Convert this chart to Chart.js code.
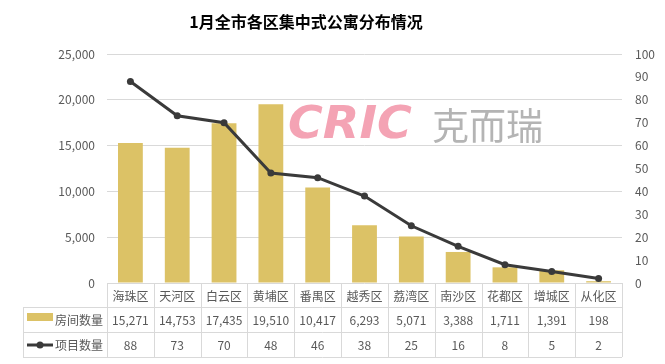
<!DOCTYPE html>
<html><head><meta charset="utf-8">
<script src="https://cdn.jsdelivr.net/npm/chart.js@4/dist/chart.umd.min.js"></script>
<style>html,body{margin:0;padding:0;background:#fff}canvas{display:block}</style>
</head><body>
<canvas id="c" width="665" height="364"></canvas>
<script>
const title = '1月全市各区集中式公寓分布情况';
const categories = ['海珠区','天河区','白云区','黄埔区','番禺区','越秀区','荔湾区','南沙区','花都区','增城区','从化区'];
const roomLabel = '房间数量';
const rooms = [15271,14753,17435,19510,10417,6293,5071,3388,1711,1391,198];
const projLabel = '项目数量';
const projects = [88,73,70,48,46,38,25,16,8,5,2];
const leftTicks = [0,5000,10000,15000,20000,25000];
const rightTicks = [0,10,20,30,40,50,60,70,80,90,100];

const FONT = '"Noto Sans CJK SC","Microsoft YaHei",sans-serif';
const BAR = '#DCC266';
const LINE = '#3A3A3A';
const GRID = '#D9D9D9';
const TXT = '#595959';
const fmt = v => v.toLocaleString('en-US');

const extras = {
  id: 'extras',
  beforeDatasetsDraw(chart) {
    const ctx = chart.ctx;
    ctx.save();
    // watermark
    ctx.textBaseline = 'middle';
    ctx.textAlign = 'left';
    ctx.save();
    ctx.translate(288, 127);
    ctx.scale(1.25, 1.15);
    ctx.font = 'italic 900 38px "DejaVu Sans",sans-serif';
    ctx.fillStyle = '#F4A3B4';
    ctx.fillText('CRIC', 0, 0);
    ctx.restore();
    ctx.font = '37px ' + FONT;
    ctx.fillStyle = '#B4B4B4';
    ctx.fillText('克而瑞', 432, 126);
    ctx.restore();
  },
  afterDraw(chart) {
    const ctx = chart.ctx;
    const x = chart.scales.x;
    const area = chart.chartArea;
    const L = area.left, R = area.right, T = area.bottom;
    const rowH = [T, 307, 332, 357];
    const legL = 23;
    ctx.save();
    // title
    ctx.font = 'bold 16px ' + FONT;
    ctx.fillStyle = '#000';
    ctx.textAlign = 'center';
    ctx.textBaseline = 'middle';
    ctx.fillText(title, 306, 22);
    // table grid
    ctx.strokeStyle = GRID;
    ctx.lineWidth = 1;
    ctx.beginPath();
    ctx.moveTo(L, rowH[0] + 0.5); ctx.lineTo(R, rowH[0] + 0.5);
    for (let i = 1; i < 4; i++) { ctx.moveTo(legL, rowH[i] + 0.5); ctx.lineTo(R, rowH[i] + 0.5); }
    const n = categories.length;
    const step = (R - L) / n;
    for (let i = 0; i <= n; i++) {
      const xx = Math.round(L + step * i) + 0.5;
      ctx.moveTo(xx, rowH[0]); ctx.lineTo(xx, rowH[3]);
    }
    ctx.moveTo(legL + 0.5, rowH[1]); ctx.lineTo(legL + 0.5, rowH[3]);
    ctx.stroke();
    // texts
    ctx.font = '12px ' + FONT;
    ctx.fillStyle = TXT;
    ctx.textAlign = 'center';
    categories.forEach((c, i) => {
      const cx = x.getPixelForValue(i);
      ctx.fillText(c, cx, (rowH[0] + rowH[1]) / 2 + 1);
      ctx.fillText(fmt(rooms[i]), cx, (rowH[1] + rowH[2]) / 2 + 1);
      ctx.fillText(String(projects[i]), cx, (rowH[2] + rowH[3]) / 2 + 1);
    });
    // legend keys
    ctx.fillStyle = BAR;
    ctx.fillRect(27, 313, 26, 8);
    ctx.strokeStyle = LINE;
    ctx.lineWidth = 3;
    ctx.beginPath(); ctx.moveTo(27, 345); ctx.lineTo(53, 345); ctx.stroke();
    ctx.fillStyle = LINE;
    ctx.beginPath(); ctx.arc(40, 345, 3.5, 0, Math.PI * 2); ctx.fill();
    ctx.fillStyle = TXT;
    ctx.textAlign = 'left';
    ctx.fillText(roomLabel, 55, (rowH[1] + rowH[2]) / 2 + 1);
    ctx.fillText(projLabel, 55, (rowH[2] + rowH[3]) / 2 + 1);
    ctx.restore();
  }
};

new Chart(document.getElementById('c'), {
  data: {
    labels: categories,
    datasets: [
      { type: 'line', label: projLabel, data: projects, yAxisID: 'y1', borderColor: LINE, backgroundColor: LINE,
        borderWidth: 3, pointRadius: 3.5, pointBackgroundColor: LINE, pointBorderWidth: 0, tension: 0, order: 0 },
      { type: 'bar', label: roomLabel, data: rooms, yAxisID: 'y', backgroundColor: BAR,
        categoryPercentage: 1, barPercentage: 0.53, order: 1 }
    ]
  },
  plugins: [extras],
  options: {
    responsive: false,
    animation: false,
    devicePixelRatio: 1,
    layout: { padding: { top: 54, bottom: 81, left: 0, right: 0 } },
    plugins: { legend: { display: false }, title: { display: false }, tooltip: { enabled: false } },
    scales: {
      x: { display: false, offset: true, grid: { display: false } },
      y: {
        position: 'left', min: 0, max: 25000,
        afterFit: s => { s.width = 107; },
        afterBuildTicks: s => { s.ticks = leftTicks.map(v => ({ value: v })); },
        ticks: { color: TXT, font: { family: FONT, size: 12 }, padding: 12, callback: v => fmt(v) },
        grid: { color: ctx => ctx.tick.value === 0 ? 'rgba(0,0,0,0)' : GRID, drawTicks: false },
        border: { display: false }
      },
      y1: {
        position: 'right', min: 0, max: 100,
        afterFit: s => { s.width = 43; },
        afterBuildTicks: s => { s.ticks = rightTicks.map(v => ({ value: v })); },
        ticks: { color: TXT, font: { family: FONT, size: 12 }, padding: 13 },
        grid: { display: false, drawTicks: false },
        border: { display: false }
      }
    }
  }
});
</script>
</body></html>
